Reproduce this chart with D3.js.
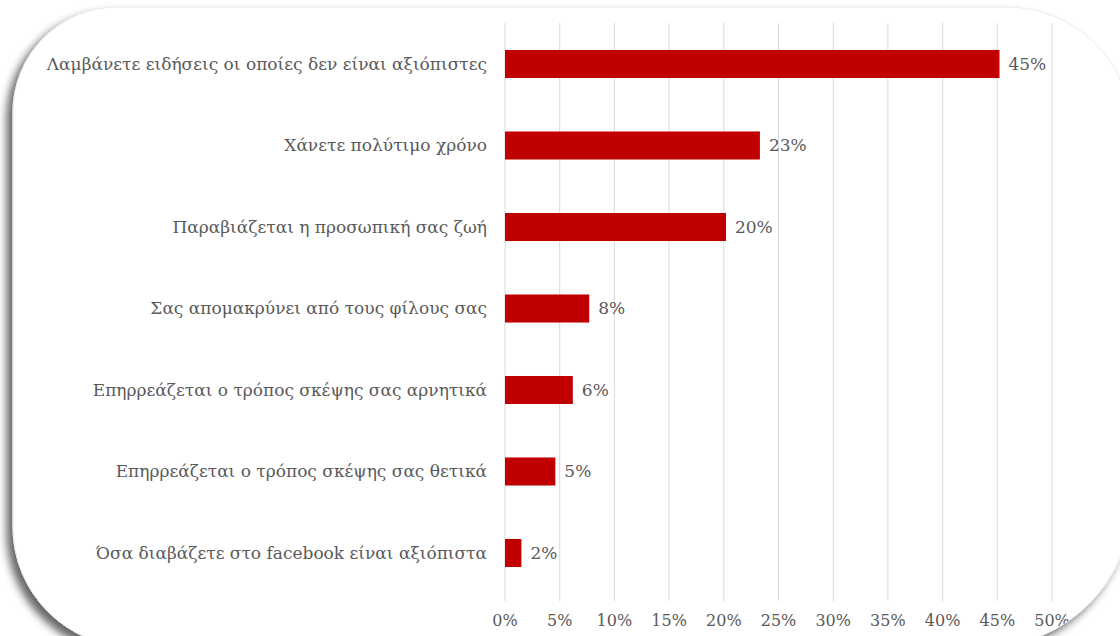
<!DOCTYPE html>
<html>
<head>
<meta charset="utf-8">
<script src="https://cdn.jsdelivr.net/npm/d3@7"></script>
<style>
  body { margin: 0; background: #fff; }
  text { font-family: "DejaVu Serif", serif; }
</style>
</head>
<body>
<div id="chart"></div>
<script>
// data
var categories = [
  "Λαμβάνετε ειδήσεις οι οποίες δεν είναι αξιόπιστες",
  "Χάνετε πολύτιμο χρόνο",
  "Παραβιάζεται η προσωπική σας ζωή",
  "Σας απομακρύνει από τους φίλους σας",
  "Επηρρεάζεται ο τρόπος σκέψης σας αρνητικά",
  "Επηρρεάζεται ο τρόπος σκέψης σας θετικά",
  "Όσα διαβάζετε στο facebook είναι αξιόπιστα"
];
var values = [45.2, 23.3, 20.2, 7.7, 6.2, 4.6, 1.5];
var ticks = [0, 5, 10, 15, 20, 25, 30, 35, 40, 45, 50];

var W = 1120, H = 636;
var svg = d3.select("#chart").append("svg")
    .attr("width", W)
    .attr("height", H);

// drop shadow for the card
var defs = svg.append("defs");
var f = defs.append("filter").attr("id", "shadow")
    .attr("x", "-5%").attr("y", "-5%").attr("width", "110%").attr("height", "115%");
f.append("feDropShadow")
    .attr("dx", -6).attr("dy", 6)
    .attr("stdDeviation", 4.5)
    .attr("flood-color", "#000")
    .attr("flood-opacity", 0.6);

// rounded card, each corner with its own radius
var cL = 13, cT = 7, cR = 1132, cB = 647;
var rTL = 105, rTR = 125, rBR = 147, rBL = 120;
var p = d3.path();
p.moveTo(cL + rTL, cT);
p.lineTo(cR - rTR, cT);
p.arcTo(cR, cT, cR, cT + rTR, rTR);
p.lineTo(cR, cB - rBR);
p.arcTo(cR, cB, cR - rBR, cB, rBR);
p.lineTo(cL + rBL, cB);
p.arcTo(cL, cB, cL, cB - rBL, rBL);
p.lineTo(cL, cT + rTL);
p.arcTo(cL, cT, cL + rTL, cT, rTL);
p.closePath();
var cardPath = p.toString();

svg.append("path")
    .attr("d", cardPath)
    .attr("fill", "#fff")
    .attr("stroke", "#ececec")
    .attr("filter", "url(#shadow)");

defs.append("clipPath").attr("id", "card")
  .append("path")
    .attr("d", cardPath);

var g = svg.append("g").attr("clip-path", "url(#card)");

var x = d3.scaleLinear()
    .domain([0, 50])
    .range([505, 1052]);

var y = d3.scaleBand()
    .domain(categories)
    .range([23.25, 593.75])
    .paddingInner(0.656)
    .paddingOuter(0.328);

// gridlines
g.append("g")
  .selectAll("line")
  .data(ticks)
  .enter().append("line")
    .attr("x1", function(d) { return x(d); })
    .attr("x2", function(d) { return x(d); })
    .attr("y1", 23)
    .attr("y2", 601)
    .attr("stroke", "#d9d9d9")
    .attr("stroke-width", 1);

// bars
g.append("g")
  .selectAll("rect")
  .data(values)
  .enter().append("rect")
    .attr("x", x(0))
    .attr("y", function(d, i) { return y(categories[i]); })
    .attr("width", function(d) { return x(d) - x(0); })
    .attr("height", y.bandwidth())
    .attr("fill", "#c00000");

// data labels
g.append("g")
  .selectAll("text")
  .data(values)
  .enter().append("text")
    .attr("x", function(d) { return x(d) + 9; })
    .attr("y", function(d, i) { return y(categories[i]) + y.bandwidth() / 2; })
    .attr("dy", "0.35em")
    .attr("font-size", 17)
    .attr("fill", "#595959")
    .text(function(d) { return Math.round(d) + "%"; });

// category labels
g.append("g")
  .selectAll("text")
  .data(categories)
  .enter().append("text")
    .attr("x", 487)
    .attr("y", function(d) { return y(d) + y.bandwidth() / 2; })
    .attr("dy", "0.35em")
    .attr("text-anchor", "end")
    .attr("font-size", 17)
    .attr("fill", "#595959")
    .text(function(d) { return d; });

// x axis tick labels
g.append("g")
  .selectAll("text")
  .data(ticks)
  .enter().append("text")
    .attr("x", function(d) { return x(d); })
    .attr("y", 620)
    .attr("dy", "0.35em")
    .attr("text-anchor", "middle")
    .attr("font-size", 16)
    .attr("fill", "#595959")
    .text(function(d) { return d + "%"; });
</script>
</body>
</html>
